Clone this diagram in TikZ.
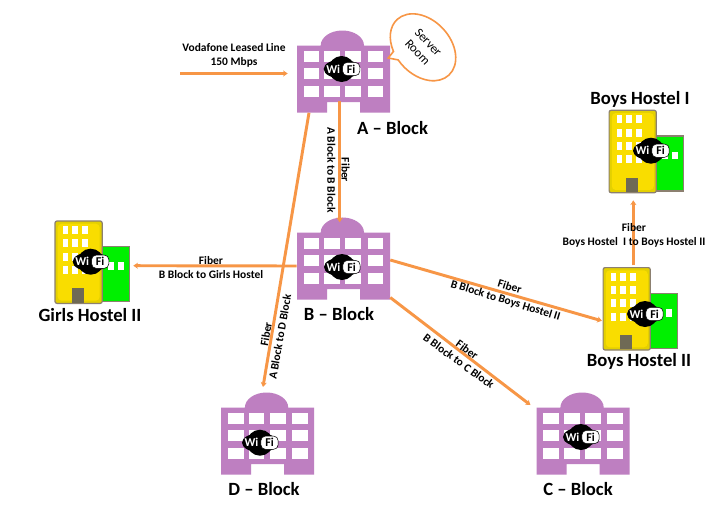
\documentclass[tikz,border=0pt]{standalone}
\usepackage{fontspec}
\setmainfont{Carlito}
\usepackage{tikz}
\usetikzlibrary{arrows.meta,calc,shapes.callouts}
\definecolor{vorange}{HTML}{F79646}
\definecolor{vpurple}{HTML}{BE7FC1}
\definecolor{vyellow}{HTML}{F9DD00}
\definecolor{vedge}{HTML}{E4D000}
\definecolor{vgreen}{HTML}{00F000}
\definecolor{vframe}{HTML}{8C8070}
\definecolor{vdoor}{HTML}{6F6A55}
\tikzset{
  blockbox/.style={minimum width=69.75pt,minimum height=50.25pt,inner sep=0pt},
  hostelbox/.style={minimum width=55.7pt,minimum height=61.7pt,inner sep=0pt},
  arr/.style={-{Stealth[length=3.5pt,width=4.6pt]},line width=2.2pt,draw=vorange},
  lbl/.style={font=\fontsize{8.6}{10.6}\selectfont\bfseries,align=center,inner sep=0pt},
  title/.style={font=\fontsize{14}{16}\selectfont\bfseries,inner sep=0pt},
  wifi/.pic={
    \fill[black] (0,0) ellipse (18 and 9.5);
    \fill[black] (0,0) circle (13);
    \node[fill=white,draw=black,line width=0.4pt,rounded corners=3.5pt,minimum width=13pt,minimum height=10pt,inner sep=0pt,font=\fontsize{9}{9}\selectfont\bfseries] (-fi) at (9.5,0) {Fi};
    \node[text=white,inner sep=0pt,font=\fontsize{9}{9}\selectfont\bfseries] (-wi) at (-8.5,0) {Wi};
  },
  purple block/.pic={
    \fill[vpurple] (-46.5,-33.5) -- (-22.8,-33.5) arc[start angle=180,end angle=360,x radius=21.65,y radius=15] -- (46.5,-33.5) -- (46.5,33.5) -- (16.5,33.5) -- (16.5,23) -- (-16.5,23) -- (-16.5,33.5) -- (-46.5,33.5) -- cycle;
    \foreach \x/\w in {-39.8/15.6,-19.2/15.7,1.8/16,24.2/15.6}
      \foreach \y in {-28.3,-10.7,6.7}
        \fill[white] (\x,\y) rectangle ++(\w,11);
  },
  hostel/.pic={
    \draw[vframe,fill=vgreen,line width=0.9pt] (8,-15.5) rectangle (37.2,39.5);
    \draw[vframe,fill=vedge,line width=0.9pt,rounded corners=1.5pt] (-37.2,-41.2) rectangle (10,41.2);
    \fill[vyellow,rounded corners=3pt] (-34.5,-38.5) rectangle (7.5,38.5);
    \fill[vdoor] (-19.9,26.1) rectangle (-8.5,40.4);
    \foreach \x in {-29.5,-20.2,-10.2}
      \foreach \y in {-36.2,-22.9,-9.5,3.8}
        \fill[white] (\x,\y) rectangle ++(5.6,8);
    \foreach \x in {16,26}
      \fill[white] (\x,0.2) rectangle ++(5.8,7.6);
  },
}
\begin{document}
\begin{tikzpicture}[x=0.75pt,y=-0.75pt]
  \useasboundingbox[fill=white] (0,0) rectangle (719,529);
  % buildings
  \node[blockbox] (ablock) at (343.5,79) {};
  \node[blockbox] (bblock) at (343.5,266) {};
  \node[blockbox] (dblock) at (267.7,441) {};
  \node[blockbox] (cblock) at (583.2,441) {};
  \node[hostelbox] (girls) at (92.2,262.2) {};
  \node[hostelbox] (boysi) at (646.3,151.5) {};
  \node[hostelbox] (boysii) at (640.3,308.8) {};
  \pic at (ablock) {purple block};
  \pic at (bblock) {purple block};
  \pic at (dblock) {purple block};
  \pic at (cblock) {purple block};
  \pic at (girls) {hostel};
  \pic at (boysi) {hostel};
  \pic at (boysii) {hostel};
  % links
  \coordinate (lease) at (180,73.5);
  \draw[arr] (lease) -- ($(ablock.west)+(-9,-5.5)$);
  \draw[arr] ($(ablock.south)+(-3.8,-12)$) -- ($(bblock.north)+(-3.8,-10)$);
  \draw[arr] ($(ablock.south)+(-34.5,0)$) -- ($(dblock.north)+(-4.7,-20.3)$);
  \draw[arr] (bblock.west) -- ($(girls.east)+(3.7,3.5)$);
  \draw[arr] ($(bblock.east)+(0,-6)$) -- ($(boysii.west)+(-1,12)$);
  \draw[arr] ($(bblock.east)+(0,31.5)$) -- ($(cblock.west)+(-6,-36)$);
  \draw[arr] ($(boysii.north)+(-7,-2)$) -- ($(boysi.south)+(-13,7.5)$);
  % wifi badges
  \pic (wa) at (341.7,69) {wifi};
  \pic (wb) at (342,267) {wifi};
  \pic (wd) at (260,442.7) {wifi};
  \pic (wc) at (581,437) {wifi};
  \pic (wg) at (90.7,261.7) {wifi};
  \pic (wi) at (651,150.7) {wifi};
  \pic (wii) at (645,314) {wifi};
  % server room
  \node[ellipse callout,draw=vorange,fill=white,line width=1.2pt,rotate=-47,minimum width=57pt,minimum height=41pt,inner sep=0pt,align=center,font=\fontsize{9.5}{11}\selectfont,callout absolute pointer={($(ablock.east)+(-2,-21)$)}] (server) at (423,47.3) {Server\\Room};
  % titles
  \node[title] (atitle) at (392.5,128) {A -- Block};
  \node[title] (btitle) at (339,314) {B -- Block};
  \node[title] (dtitle) at (264,489) {D -- Block};
  \node[title] (ctitle) at (578,489) {C -- Block};
  \node[title] (gtitle) at (90,315) {Girls Hostel II};
  \node[title] (ititle) at (640,99) {Boys Hostel I};
  \node[title] (iititle) at (639,361) {Boys Hostel II};
  % link labels
  \node[lbl] (llease) at (234,55) {Vodafone Leased Line\\150 Mbps};
  \node[lbl,rotate=-90] (lab) at (338.5,170) {Fiber\\A Block to B Block};
  \node[lbl,rotate=80] (lad) at (273,335.5) {Fiber\\A Block to D Block};
  \node[lbl] (lbg) at (211,267.5) {Fiber\\B Block to Girls Hostel};
  \node[lbl,rotate=-17] (lbb) at (507.5,294) {Fiber\\B Block to Boys Hostel II};
  \node[lbl,rotate=-36] (lbc) at (463,355.5) {Fiber\\B Block to C Block};
  \node[lbl] (lbi) at (634,235) {Fiber\\Boys Hostel\ \ I to Boys Hostel II};
\end{tikzpicture}
\end{document}
